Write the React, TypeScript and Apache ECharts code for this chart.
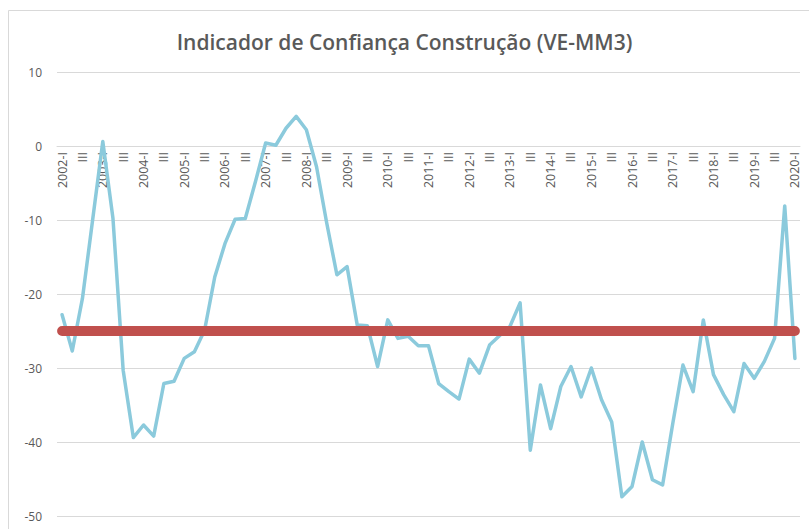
import React, { useEffect, useRef } from "react";
import * as echarts from "echarts";

const years = [2002, 2003, 2004, 2005, 2006, 2007, 2008, 2009, 2010, 2011, 2012, 2013, 2014, 2015, 2016, 2017, 2018, 2019, 2020];
const quarters = ["I", "II", "III", "IV"];
const categories: string[] = [];
years.forEach((y) => {
  quarters.forEach((q, i) => {
    if (y === 2020 && i > 0) return;
    categories.push(i === 0 ? `${y}-I` : q);
  });
});

const indicador = [
  -22.8, -27.7, -20.6, -10.0,
  0.6, -9.8, -30.3, -39.4,
  -37.7, -39.2, -32.1, -31.8,
  -28.7, -27.8, -24.9, -17.7,
  -13.2, -9.9, -9.8, -4.8,
  0.4, 0.1, 2.4, 4.0,
  2.2, -2.8, -10.4, -17.4,
  -16.3, -24.2, -24.3, -29.8,
  -23.5, -26.0, -25.7, -27.0,
  -27.0, -32.1, -33.2, -34.2,
  -28.8, -30.7, -26.9, -25.6,
  -24.4, -21.2, -41.1, -32.3,
  -38.2, -32.5, -29.8, -33.9,
  -30.0, -34.3, -37.3, -47.4,
  -46.0, -40.0, -45.1, -45.8,
  -37.5, -29.6, -33.2, -23.5,
  -30.9, -33.6, -35.9, -29.4,
  -31.4, -29.1, -26.0, -8.1,
  -28.7,
];

const referencia = categories.map(() => -25);

const yMin = -50;
const yMax = 10;
const yInterval = 10;

const CHART_H = 529;
const GRID_TOP = 72;
const GRID_BOTTOM = 13;

export default function App() {
  const ref = useRef<HTMLDivElement>(null);
  useEffect(() => {
    if (!ref.current) return;
    const chart = echarts.init(ref.current, null, { renderer: "svg" });
    const gridH = CHART_H - GRID_TOP - GRID_BOTTOM;
    const zeroFromBottom = ((0 - yMin) / (yMax - yMin)) * gridH;
    chart.setOption({
      animation: false,
      backgroundColor: "#ffffff",
      title: {
        text: "Indicador de Confiança Construção (VE-MM3)",
        left: "center",
        top: 26,
        textStyle: {
          fontFamily: "Open Sans",
          fontWeight: 600,
          fontSize: 21,
          color: "#595959",
        },
      },
      graphic: [
        {
          type: "rect",
          shape: { x: 8.5, y: 10.5, width: 900, height: 600 },
          style: { fill: "none", stroke: "#D9D9D9", lineWidth: 1 },
          silent: true,
        },
      ],
      grid: {
        left: 57,
        right: 9,
        top: GRID_TOP,
        bottom: GRID_BOTTOM,
        containLabel: false,
        outerBoundsMode: "none",
      },
      xAxis: {
        type: "category",
        data: categories,
        boundaryGap: true,
        position: "bottom",
        offset: -zeroFromBottom,
        axisLine: {
          onZero: false,
          lineStyle: { color: "#D9D9D9", width: 1 },
        },
        axisTick: { show: false },
        axisLabel: {
          interval: 1,
          rotate: 90,
          margin: 6,
          color: "#595959",
          fontFamily: "Open Sans",
          fontSize: 12.5,
          hideOverlap: false,
        },
        splitLine: { show: false },
      },
      yAxis: {
        type: "value",
        min: yMin,
        max: yMax,
        interval: yInterval,
        axisLine: { show: false },
        axisTick: { show: false },
        axisLabel: {
          color: "#595959",
          fontFamily: "Open Sans",
          fontSize: 12,
          margin: 15,
        },
        splitLine: { lineStyle: { color: "#D9D9D9", width: 1 } },
      },
      series: [
        {
          type: "line",
          data: indicador,
          symbol: "none",
          lineStyle: { color: "#8BCADC", width: 3.5, join: "round", cap: "round" },
          z: 2,
        },
        {
          type: "line",
          data: referencia,
          symbol: "none",
          lineStyle: { color: "#C0504D", width: 10, cap: "round" },
          z: 3,
        },
      ],
    });
    return () => chart.dispose();
  }, []);
  return (
    <div
      ref={ref}
      style={{ position: "absolute", left: 0, top: 0, width: 809, height: CHART_H }}
    />
  );
}
